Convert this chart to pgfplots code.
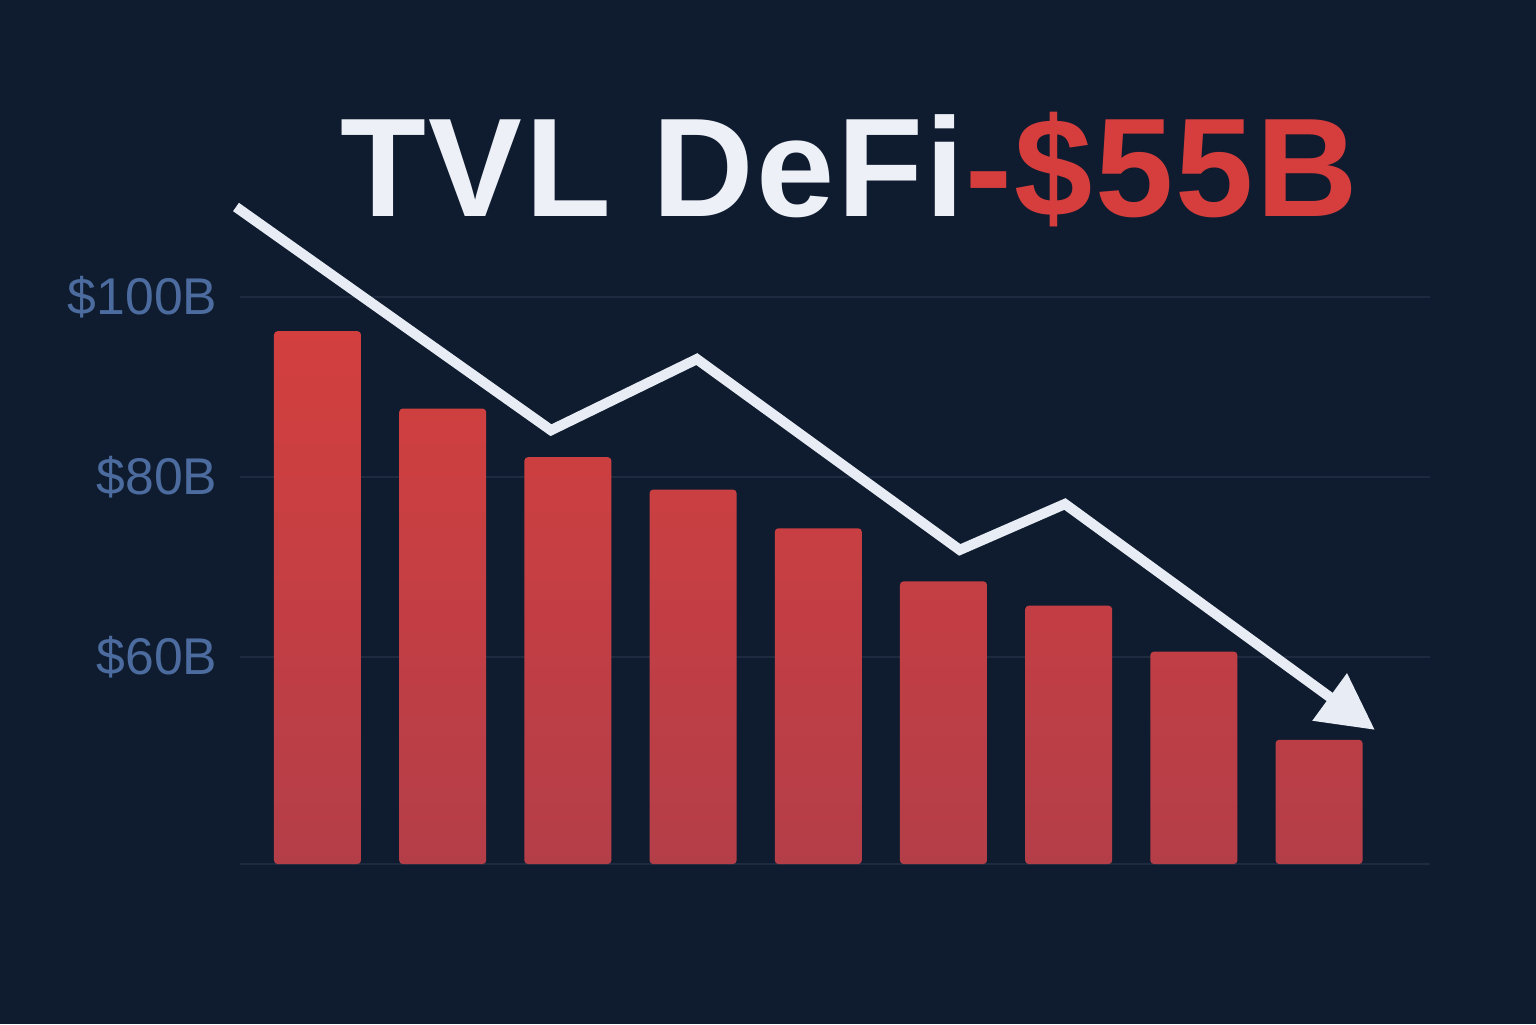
\documentclass[border=0pt]{standalone}
\usepackage{fontspec}
\setmainfont{Liberation Sans}
\newfontfamily\titlefont[LetterSpace=1.8]{Liberation Sans}
\usepackage{pgfplots}
\pgfplotsset{compat=1.18}
\usetikzlibrary{arrows.meta}

\definecolor{bg}{HTML}{0F1C2F}
\definecolor{gridc}{HTML}{1D2A3F}
\definecolor{bartop}{HTML}{D33F3F}
\definecolor{barbot}{HTML}{B43E48}
\definecolor{ticktext}{HTML}{4C6B9E}
\definecolor{titlewhite}{HTML}{EDF0F7}
\definecolor{titlered}{HTML}{D63D3D}
\definecolor{arrowc}{HTML}{E8EDF5}

\begin{document}
\begin{tikzpicture}[x=1cm,y=1cm]
\fill[bg] (0,0) rectangle (15.36,10.24);
\begin{axis}[
    at={(2.40cm,1.60cm)}, anchor=south west,
    scale only axis,
    width=11.90cm, height=5.67cm,
    xmin=-0.619, xmax=8.886,
    ymin=37, ymax=100,
    clip=false,
    axis line style={draw=none},
    xtick=\empty,
    ytick={60,80,100},
    yticklabels={\$60B,\$80B,\$100B},
    extra y ticks={37},
    extra y tick labels={},
    extra y tick style={grid=major},
    ymajorgrids,
    grid style={gridc, line width=0.6pt},
    major tick length=0pt,
    yticklabel style={anchor=east, inner sep=0pt, xshift=-0.22cm,
        text=ticktext, font=\fontsize{14.7}{17}\selectfont},
]
\addplot[ybar, bar width=0.87cm, draw=none, rounded corners=1pt,
    top color=bartop, bottom color=barbot] coordinates {
    (0,96.2) (1,87.6) (2,82.2) (3,78.6) (4,74.3)
    (5,68.4) (6,65.7) (7,60.6) (8,50.8)
};
\addplot[arrowc, line width=2.9pt, line cap=butt,
    -{Triangle[length=0.56cm, width=0.56cm]}] coordinates {
    (-0.651,110.0) (1.865,85.2) (3.03,93.1) (5.13,71.9) (5.97,77.0) (8.446,51.9)
};
\end{axis}
\node[anchor=base west, inner sep=0pt, font=\fontsize{40}{48}\selectfont\titlefont\bfseries]
    at (3.40,8.07) {\textcolor{titlewhite}{TVL DeFi}\textcolor{titlered}{-\$55B}};
\pgfresetboundingbox
\useasboundingbox (0,0) rectangle (15.36,10.24);
\end{tikzpicture}
\end{document}
